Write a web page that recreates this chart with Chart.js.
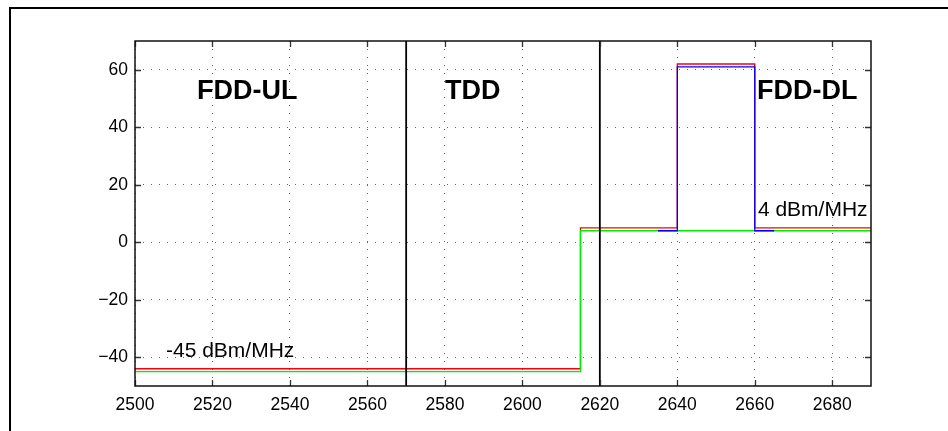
<!DOCTYPE html>
<html>
<head>
    <title>Band emission limits</title>
    <style>
        html, body { margin: 0; padding: 0; background: #fff; }
        canvas { display: block; }
    </style>
</head>
<body>
    <canvas id="mask" width="948" height="431"></canvas>
    <script src="https://cdn.jsdelivr.net/npm/chart.js"></script>
    <script>
        // frequency (MHz) / level (dBm/MHz) corners; each level holds until the next point
        const redFreq = [2500, 2615, 2640, 2660, 2690];
        const redLevel = [-44, 5, 62, 5, 5];
        const greenFreq = [2500, 2615, 2690];
        const greenLevel = [-45, 4, 4];
        const blueFreq = [2635, 2640, 2660, 2665];
        const blueLevel = [4, 61, 4, 4];
        // band boundaries
        const bandEdges = [2570, 2620];
        const xTicks = [2500, 2520, 2540, 2560, 2580, 2600, 2620, 2640, 2660, 2680];
        const yTicks = [-40, -20, 0, 20, 40, 60];
        const xRange = [2500, 2690];
        const yRange = [-50, 70];

        const notes = [
            { text: "FDD-UL", x: 2516, y: 50, font: "bold 27px 'Liberation Sans', Arial" },
            { text: "TDD", x: 2580, y: 50, font: "bold 27px 'Liberation Sans', Arial" },
            { text: "FDD-DL", x: 2660.6, y: 50, font: "bold 27px 'Liberation Sans', Arial" },
            { text: "4 dBm/MHz", x: 2660.8, y: 9, font: "21px 'Liberation Sans', Arial" },
            { text: "-45 dBm/MHz", x: 2508, y: -40, font: "21px 'Liberation Sans', Arial" }
        ];

        const pts = (xs, ys) => xs.map((x, i) => ({ x: x, y: ys[i] }));

        const edgeSets = bandEdges.map(f => ({
            data: [{ x: f, y: yRange[0] }, { x: f, y: yRange[1] }],
            borderColor: "#000",
            borderWidth: 1.8,
            pointRadius: 0
        }));

        // notes, box and inward ticks on all four sides
        const framePlugin = {
            id: "frame",
            afterDatasetsDraw(chart) {
                const ctx = chart.ctx;
                const xs = chart.scales.x, ys = chart.scales.y;
                ctx.save();
                ctx.fillStyle = "#000";
                ctx.textBaseline = "alphabetic";
                ctx.textAlign = "left";
                notes.forEach(n => {
                    ctx.font = n.font;
                    ctx.fillText(n.text, xs.getPixelForValue(n.x), ys.getPixelForValue(n.y));
                });
                ctx.restore();
            },
            afterDraw(chart) {
                const ctx = chart.ctx;
                const a = chart.chartArea;
                const xs = chart.scales.x, ys = chart.scales.y;
                ctx.save();
                ctx.strokeStyle = "#333";
                ctx.lineWidth = 1.3;
                const len = 6;
                ctx.beginPath();
                xTicks.forEach(v => {
                    const px = Math.round(xs.getPixelForValue(v)) + 0.5;
                    ctx.moveTo(px, a.bottom); ctx.lineTo(px, a.bottom - len);
                    ctx.moveTo(px, a.top); ctx.lineTo(px, a.top + len);
                });
                yTicks.forEach(v => {
                    const py = Math.round(ys.getPixelForValue(v)) + 0.5;
                    ctx.moveTo(a.left, py); ctx.lineTo(a.left + len, py);
                    ctx.moveTo(a.right, py); ctx.lineTo(a.right - len, py);
                });
                ctx.stroke();
                ctx.strokeStyle = "#111";
                ctx.lineWidth = 1.5;
                ctx.strokeRect(a.left, a.top, a.right - a.left, a.bottom - a.top);
                // figure edge
                ctx.strokeStyle = "#000";
                ctx.lineWidth = 2;
                ctx.beginPath();
                ctx.moveTo(10, chart.height);
                ctx.lineTo(10, 8);
                ctx.lineTo(chart.width, 8);
                ctx.stroke();
                ctx.restore();
            }
        };

        const tickFont = { family: "'Liberation Sans', Arial", size: 17.5 };
        const stepLine = (xs, ys, colour) => ({
            data: pts(xs, ys),
            borderColor: colour,
            borderWidth: 1.3,
            stepped: "before",
            pointRadius: 0
        });

        // first dataset ends up on top: edges, then blue, green, red underneath
        new Chart(document.getElementById("mask"), {
            type: "line",
            data: {
                datasets: [
                    ...edgeSets,
                    stepLine(blueFreq, blueLevel, "#0000ff"),
                    stepLine(greenFreq, greenLevel, "#00ee00"),
                    stepLine(redFreq, redLevel, "#ff0000")
                ]
            },
            options: {
                responsive: false,
                animation: false,
                layout: { padding: { top: 41, right: 77, left: 0, bottom: 0 } },
                plugins: { legend: { display: false }, tooltip: { enabled: false } },
                scales: {
                    x: {
                        type: "linear",
                        min: xRange[0],
                        max: xRange[1],
                        afterBuildTicks: s => { s.ticks = xTicks.map(v => ({ value: v })); },
                        afterFit: s => { s.height = 45; },
                        grid: { color: "#666", lineWidth: 1, drawTicks: false },
                        border: { display: false, dash: [1, 7] },
                        ticks: { color: "#000", font: tickFont, padding: 9, maxRotation: 0, callback: v => String(v) }
                    },
                    y: {
                        min: yRange[0],
                        max: yRange[1],
                        afterBuildTicks: s => { s.ticks = yTicks.map(v => ({ value: v })); },
                        afterFit: s => { s.width = 135; },
                        grid: { color: "#666", lineWidth: 1, drawTicks: false },
                        border: { display: false, dash: [1, 7] },
                        ticks: { color: "#000", font: tickFont, padding: 7, callback: v => v < 0 ? "\u2212" + Math.abs(v) : String(v) }
                    }
                }
            },
            plugins: [framePlugin]
        });
    </script>
</body>
</html>
